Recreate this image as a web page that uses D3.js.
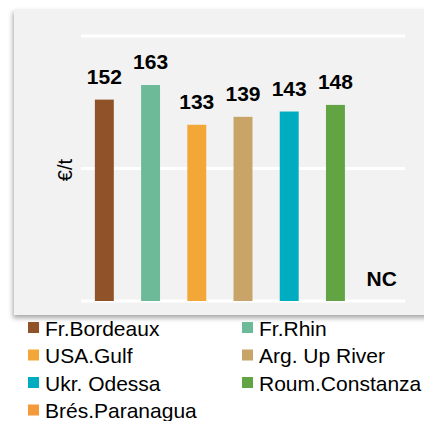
<!DOCTYPE html>
<html>
<head>
<meta charset="utf-8">
<script src="https://cdn.jsdelivr.net/npm/d3@7"></script>
<style>
  body { margin: 0; background: #fff; }
  text { font-family: Arial, "Liberation Sans", sans-serif; }
</style>
</head>
<body>
<svg width="424" height="421"></svg>
<script>
// Chart data
var origins = ['Fr.Bordeaux', 'Fr.Rhin', 'USA.Gulf', 'Arg. Up River', 'Ukr. Odessa', 'Roum.Constanza', 'Brés.Paranagua'];
var prices = [152, 163, 133, 139, 143, 148, null];
var colors = ['#8f5229', '#6dba98', '#f3a736', '#c8a468', '#00acbf', '#62a443', '#f59a3a'];
var yTicks = [0, 100, 200];

var svg = d3.select('svg');

var svgWidth = +svg.attr('width');
var svgHeight = +svg.attr('height');

// drop shadow for the grey panel
var defs = svg.append('defs');
var shadow = defs.append('filter')
    .attr('id', 'shadow')
    .attr('x', '-10%').attr('y', '-10%')
    .attr('width', '130%').attr('height', '130%');
shadow.append('feDropShadow')
    .attr('dx', -1).attr('dy', 3)
    .attr('stdDeviation', 2.5)
    .attr('flood-color', '#000')
    .attr('flood-opacity', 0.35);

svg.append('rect')
    .attr('x', 14)
    .attr('y', 9)
    .attr('width', 430)
    .attr('height', 306)
    .attr('fill', '#f2f2f2')
    .attr('filter', 'url(#shadow)');

var plot = {l: 81, r: 405, t: 36, b: 301};

var data = origins.map(function(o, i) {
    return {origin: o, price: prices[i], color: colors[i]};
});

var xScale = d3.scaleBand()
    .domain(origins)
    .range([plot.l, plot.r])
    .paddingInner(0.59)
    .paddingOuter(0.3);

var yScale = d3.scaleLinear()
    .domain([0, 200])
    .range([plot.b, plot.t]);

var chartG = svg.append('g');

// gridlines
chartG.selectAll('.grid')
    .data(yTicks)
    .enter()
    .append('line')
    .attr('class', 'grid')
    .attr('x1', plot.l)
    .attr('x2', plot.r)
    .attr('y1', function(d) { return yScale(d); })
    .attr('y2', function(d) { return yScale(d); })
    .attr('stroke', '#fff')
    .attr('stroke-width', 3);

// bars
var withValue = data.filter(function(d) { return d.price != null; });

chartG.selectAll('.bar')
    .data(withValue)
    .enter()
    .append('rect')
    .attr('class', 'bar')
    .attr('x', function(d) { return xScale(d.origin); })
    .attr('width', xScale.bandwidth())
    .attr('y', function(d) { return yScale(d.price); })
    .attr('height', function(d) { return yScale(0) - yScale(d.price); })
    .attr('fill', function(d) { return d.color; });

// value labels
chartG.selectAll('.lbl')
    .data(data)
    .enter()
    .append('text')
    .attr('class', 'lbl')
    .attr('x', function(d) { return xScale(d.origin) + xScale.bandwidth() / 2; })
    .attr('y', function(d) {
        return d.price != null ? yScale(d.price) - 16 : yScale(0) - 15;
    })
    .attr('text-anchor', 'middle')
    .style('font-size', '21px')
    .style('font-weight', 'bold')
    .attr('fill', '#000')
    .text(function(d) { return d.price != null ? d.price : 'NC'; });

// y axis title
svg.append('text')
    .attr('transform', 'translate(72,170) rotate(-90)')
    .attr('text-anchor', 'middle')
    .style('font-size', '20px')
    .attr('fill', '#000')
    .text('€/t');

// legend, two columns
var legend = svg.append('g');
var legItems = legend.selectAll('.leg')
    .data(data)
    .enter()
    .append('g')
    .attr('class', 'leg')
    .attr('transform', function(d, i) {
        var col = i % 2, row = Math.floor(i / 2);
        return 'translate(' + [28 + col * 214, 322 + row * 27.5] + ')';
    });

legItems.append('rect')
    .attr('width', 11)
    .attr('height', 11)
    .attr('fill', function(d) { return d.color; });

legItems.append('text')
    .attr('x', 17)
    .attr('y', 13.5)
    .style('font-size', '21px')
    .attr('fill', '#000')
    .text(function(d) { return d.origin; });
</script>
</body>
</html>
